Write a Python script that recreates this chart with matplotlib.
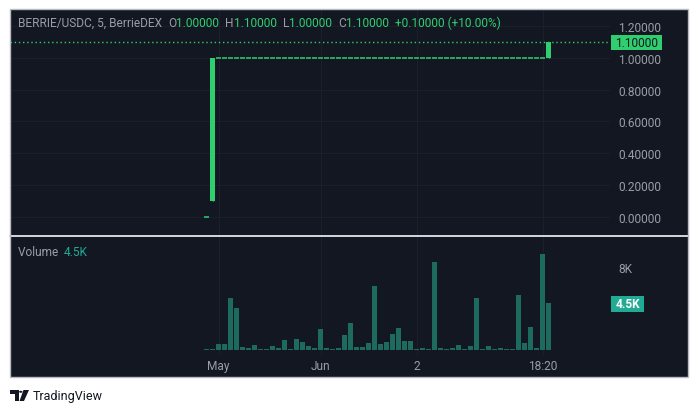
import matplotlib
matplotlib.use("Agg")
import matplotlib.pyplot as plt
from matplotlib.patches import Rectangle, Polygon, Circle

# ---- data ----
opens = [0.001, 0.1] + [1.0] * 55 + [1.0]
closes = [0.001, 1.0] + [1.0] * 55 + [1.1]
highs = [0.001, 1.0] + [1.0] * 55 + [1.1]
lows = [0.001, 0.1] + [1.0] * 55 + [1.0]

volumes = [0.1, 0.1, 0.55, 0.55, 5.0, 4.0, 0.26, 0.16, 0.45, 0.07,
           0.07, 0.35, 0.16, 0.93, 0.07, 1.03, 0.74, 0.35, 0.16, 2.0,
           0.16, 0.07, 0.16, 1.41, 2.56, 0.26, 0.26, 0.64, 6.2, 0.54,
           0.74, 1.5, 2.08, 0.83, 0.83, 0.06, 0.16, 0.06, 8.5, 0.16,
           0.06, 0.16, 0.45, 0.06, 0.35, 5.0, 0.06, 0.35, 0.06, 0.16,
           0.06, 0.06, 5.26, 0.64, 2.18, 0.16, 9.2, 4.5]  # thousands

price_ticks = [0.0, 0.2, 0.4, 0.6, 0.8, 1.0, 1.2]
time_tick_pos = [2, 19, 35, 56]
time_tick_labels = ["May", "Jun", "2", "18:20"]

last_price = 1.1
last_volume = 4.5

BG = "#131722"
GREEN = "#2fcf6f"
VOLC = "#1c6b5e"
TEAL = "#22ab94"
TXT = "#9a9da6"
GRID = "#1b1f2b"
FONT = "Roboto"
FS = 8.6

W, H = 699, 414
fig = plt.figure(figsize=(W / 100, H / 100), dpi=100)
fig.patch.set_facecolor("white")


def fx(x):
    return x / W


def fy(y):
    return 1 - y / H


# panel background + border on top of everything
fig.patches.append(Rectangle((fx(10), fy(378)), fx(678), 368 / H, transform=fig.transFigure,
                             facecolor=BG, edgecolor="none", zorder=-5))
fig.patches.append(Rectangle((fx(10), fy(378)), fx(678), 368 / H, transform=fig.transFigure,
                             facecolor="none", edgecolor="#b8bbc3", linewidth=1, zorder=10))

ax = fig.add_axes([fx(10), fy(236.5), fx(600), 226.5 / H])
axv = fig.add_axes([fx(10), fy(356), fx(600), 118.5 / H])

x = list(range(len(opens)))
for a in (ax, axv):
    a.set_facecolor(BG)
    a.set_xlim(-32.75, 67.25)
    for s in a.spines.values():
        s.set_visible(False)
    a.yaxis.tick_right()
    a.tick_params(axis="y", length=0, pad=5.8, labelsize=FS, labelcolor=TXT)
    a.tick_params(axis="x", length=0)

# ---- price pane ----
ax.set_ylim(-0.1162, 1.3065)
ax.set_yticks(price_ticks)
ax.set_yticklabels(["%.5f" % v for v in price_ticks], fontfamily=FONT)
ax.set_xticks(time_tick_pos)
ax.set_xticklabels([])
ax.grid(True, color=GRID, linewidth=0.8)
ax.set_axisbelow(True)

half = 5 / 12
ax.vlines(x, lows, highs, color=GREEN, linewidth=1, zorder=2)
for i, o, c in zip(x, opens, closes):
    if o == c:
        ax.hlines(o, i - half, i + half, color=GREEN, linewidth=1.1, zorder=3)
    else:
        ax.bar(i, abs(c - o), bottom=min(o, c), width=2 * half, color=GREEN, linewidth=0, zorder=3)
ax.axhline(last_price, color=GREEN, linewidth=1, linestyle=(0, (1, 2)), zorder=2)

# ---- volume pane ----
axv.set_ylim(-0.48, 10.91)
axv.set_yticks([8])
axv.set_yticklabels(["8K"], fontfamily=FONT)
axv.set_xticks(time_tick_pos)
axv.set_xticklabels(time_tick_labels, fontfamily=FONT, fontsize=FS, color=TXT)
axv.tick_params(axis="x", pad=3)
axv.grid(True, axis="x", color=GRID, linewidth=0.8)
axv.set_axisbelow(True)
axv.bar(x, volumes, width=2 * half, color=VOLC, linewidth=0, zorder=3)

# separator between panes
fig.add_artist(plt.Line2D([fx(10), fx(688)], [fy(236.8), fy(236.8)], transform=fig.transFigure,
                          color="#d6d8de", linewidth=1.4))

# last value labels
fig.patches.append(Rectangle((fx(611), fy(50.5)), fx(51), 14.5 / H, transform=fig.transFigure,
                             facecolor=GREEN, edgecolor="none", zorder=5))
fig.text(fx(636.5), fy(43.3), "%.5f" % last_price, ha="center", va="center",
         fontsize=FS, fontfamily=FONT, color=BG, zorder=6)
fig.patches.append(Rectangle((fx(611), fy(313)), fx(33), 16.5 / H, transform=fig.transFigure,
                             facecolor=TEAL, edgecolor="none", zorder=5))
fig.text(fx(627.5), fy(304.8), "%.1fK" % last_volume, ha="center", va="center",
         fontsize=FS, fontfamily=FONT, color="white", fontweight="bold", zorder=6)

# legend lines
renderer = fig.canvas.get_renderer()


def pieces(x0, y, parts):
    xp = x0
    for s, c in parts:
        t = fig.text(fx(xp), fy(y), s, color=c, fontsize=FS, fontfamily=FONT, va="center", ha="left")
        bb = t.get_window_extent(renderer)
        xp = bb.x1


chg = closes[-1] - opens[-1]
pieces(18, 23.5, [("BERRIE/USDC, 5, BerrieDEX  ", TXT),
                  ("O", TXT), ("%.5f  " % opens[-1], GREEN),
                  ("H", TXT), ("%.5f  " % highs[-1], GREEN),
                  ("L", TXT), ("%.5f  " % lows[-1], GREEN),
                  ("C", TXT), ("%.5f  " % closes[-1], GREEN),
                  ("+%.5f (+%.2f%%)" % (chg, chg / opens[-1] * 100), GREEN)])
pieces(18, 253, [("Volume  ", TXT), ("%.1fK" % last_volume, TEAL)])

# TradingView logo + text
logo = "#131722"
fig.patches.append(Polygon([(fx(10), fy(391)), (fx(18.5), fy(391)), (fx(18.5), fy(402)),
                            (fx(14.5), fy(402)), (fx(14.5), fy(394.5)), (fx(10), fy(394.5))],
                           closed=True, transform=fig.transFigure, facecolor=logo, edgecolor="none"))
fig.patches.append(Circle((fx(20.8), fy(392.8)), 1.7 / W, transform=fig.transFigure,
                          facecolor=logo, edgecolor="none"))
fig.patches.append(Polygon([(fx(23.5), fy(391)), (fx(29), fy(391)), (fx(24), fy(402)), (fx(19.5), fy(402))],
                           closed=True, transform=fig.transFigure, facecolor=logo, edgecolor="none"))
fig.text(fx(33), fy(396.5), "TradingView", fontsize=9, fontfamily=FONT, color=logo,
         va="center", ha="left")

fig.savefig("out.png", dpi=100, facecolor="white")
